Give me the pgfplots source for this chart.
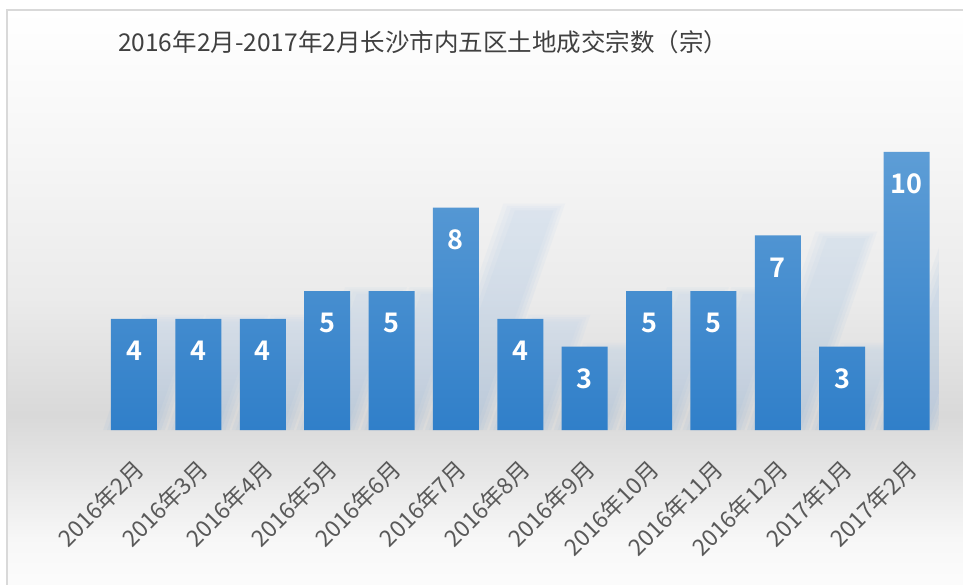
\documentclass[border=0pt]{standalone}
\usepackage{pgfplots}
\pgfplotsset{compat=1.18}
\usepackage{fontspec}
\setmainfont{Noto Sans CJK SC}[BoldFont={Noto Sans CJK SC Bold}]
\definecolor{barTop}{RGB}{93,157,214}
\definecolor{barBot}{RGB}{48,127,201}
\definecolor{shadowCol}{RGB}{140,178,218}
\definecolor{titleCol}{RGB}{64,64,64}
\definecolor{tickCol}{RGB}{89,89,89}
\definecolor{frameCol}{RGB}{217,217,217}
\pgfdeclareverticalshading{bgshade}{100bp}{%
 rgb(0bp)=(0.99,0.99,0.99);
 rgb(25bp)=(0.99,0.99,0.99);
 rgb(29.6bp)=(0.97,0.97,0.97);
 rgb(35.6bp)=(0.90,0.90,0.90);
 rgb(40.3bp)=(0.85,0.85,0.85);
 rgb(50.2bp)=(0.92,0.92,0.92);
 rgb(63bp)=(0.965,0.965,0.965);
 rgb(75bp)=(1,1,1);
 rgb(100bp)=(1,1,1)}
\begin{document}
\begin{tikzpicture}
\path[use as bounding box] (0pt,0pt) rectangle (963pt,584pt);
\fill[shading=bgshade] (7pt,-10pt) rectangle (975pt,574pt);
\draw[frameCol, line width=1.5pt] (7pt,-10pt) -- (7pt,574pt) -- (975pt,574pt);
\node[anchor=base west, text=titleCol, font=\fontsize{24.5}{24.5}\selectfont, inner sep=0pt]
  at (118pt,532pt) {2016年2月-2017年2月长沙市内五区土地成交宗数（宗）};
\begin{axis}[
  at={(101.8pt,154pt)}, anchor=south west,
  scale only axis, width=837pt, height=291.9pt,
  xmin=-0.5, xmax=12.5, ymin=0, ymax=10.5,
  axis line style={draw=none},
  major tick length=0pt,
  ytick=\empty,
  xtick={0,1,2,3,4,5,6,7,8,9,10,11,12},
  xticklabels={2016年2月,2016年3月,2016年4月,2016年5月,2016年6月,2016年7月,2016年8月,2016年9月,2016年10月,2016年11月,2016年12月,2017年1月,2017年2月},
  xticklabel style={yshift=-27pt, xshift=-2pt, rotate=45, anchor=north east, inner sep=0pt,
    text=tickCol, font=\fontsize{23}{23}\selectfont},
  /pgf/number format/assume math mode=true,
]
\pgfplotsforeachungrouped \i/\v in {0/4,1/4,2/4,3/5,4/5,5/8,6/4,7/3,8/5,9/5,10/7,11/3,12/10}{%
  \pgfplotsforeachungrouped \w/\e in {0.30/0.0,0.36/0.08,0.42/0.16,0.48/0.24}{%
    \pgfmathsetmacro\xa{\i-\w}%
    \pgfmathsetmacro\xb{\i+\w}%
    \pgfmathsetmacro\xc{\i+\w+0.152*\v}%
    \pgfmathsetmacro\xd{\i-\w+0.152*\v}%
    \pgfmathsetmacro\ve{\v+\e-0.1}%
    \edef\tmp{\noexpand\addplot[draw=none, top color=shadowCol!60!white, bottom color=shadowCol, fill opacity=0.105, forget plot]
       coordinates {(\xa,0) (\xb,0) (\xc,\ve) (\xd,\ve)};}%
    \tmp
  }%
}
\addplot[ybar, bar width=46pt, draw=none, top color=barTop, bottom color=barBot,
  nodes near coords,
  nodes near coords style={anchor=center, yshift=-32pt, text=white,
    font=\fontsize{27}{27}\selectfont\bfseries}]
  coordinates {(0,4) (1,4) (2,4) (3,5) (4,5) (5,8) (6,4) (7,3) (8,5) (9,5) (10,7) (11,3) (12,10)};
\end{axis}
\end{tikzpicture}
\end{document}
